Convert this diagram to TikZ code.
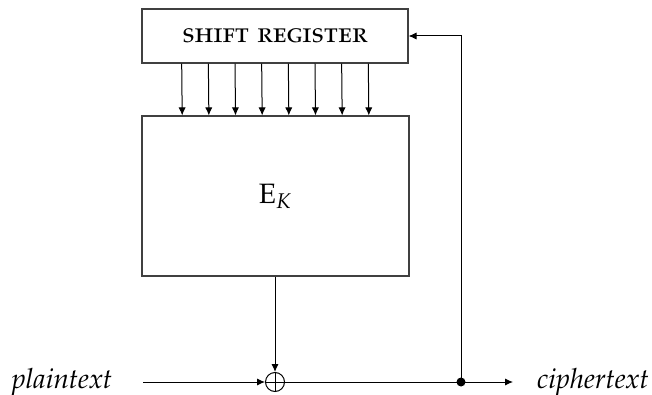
\documentclass[tikz,border=0pt]{standalone}
\usepackage[T1]{fontenc}
\usepackage[sc]{mathpazo}
\usetikzlibrary{arrows.meta,calc}
\tikzset{
  blk/.style={draw=black!75, line width=0.55pt, inner sep=0pt, rectangle},
  arr/.style={line width=0.5pt, -{Latex[length=4pt,width=3.6pt]}},
  ln/.style={line width=0.5pt},
  lbl/.style={inner sep=0pt, font=\fontsize{13.9}{16}\selectfont\itshape}
}
\begin{document}
\begin{tikzpicture}[x=0.5pt,y=-0.5pt]
\useasboundingbox (0,0) rectangle (652,395);
\node[blk, minimum width=133pt, minimum height=27pt, font=\fontsize{14}{16}\selectfont] (sr) at (275,36) {\textsc{shift register}};
\node[blk, minimum width=133.5pt, minimum height=80pt, font=\fontsize{14}{16}\selectfont] (ek) at (275.5,196) {$\mathrm{E}_K$};
\node[circle, draw, line width=0.5pt, minimum size=9.5pt, inner sep=0pt] (xor) at (275,382) {};
\draw[ln] (xor.north) -- (xor.south) (xor.west) -- (xor.east);
\node[lbl, anchor=base] (pt) at (62,388) {plaintext};
\node[lbl, anchor=base] (ct) at (593,388) {ciphertext};
\coordinate (pin) at (143,382);
\node[circle, fill, inner sep=0pt, minimum size=4.5pt] (dot) at (461,382) {};
\coordinate (out) at (513,382);
\coordinate (corner) at (461,36);
\foreach \i in {-3.5,-2.5,...,3.5}
  \draw[arr] ([xshift=\i*13.33pt]sr.south) -- ([xshift=\i*13.33pt]ek.north);
\draw[arr] (ek.south -| xor) -- (xor.north);
\draw[arr] (pin) -- (xor.west);
\draw[ln] (xor.east) -- (dot.center);
\draw[arr] (dot.center) -- (out);
\draw[arr] (dot.center) -- (corner) -- (sr.east |- corner);
\end{tikzpicture}
\end{document}
